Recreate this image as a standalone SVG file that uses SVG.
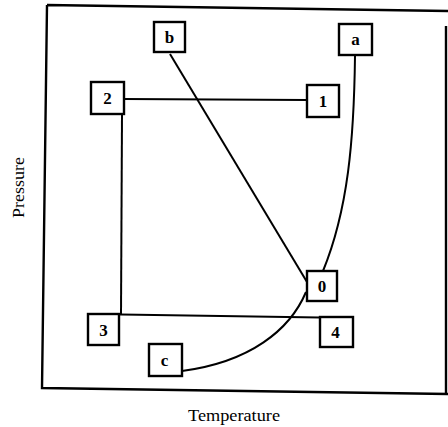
<svg xmlns="http://www.w3.org/2000/svg" width="448" height="427" viewBox="0 0 448 427">
<style>
.box{fill:#fff;stroke:#000;stroke-width:2.4}
.lbl{font-family:"Liberation Serif","DejaVu Serif",serif;font-size:17px;font-weight:bold;text-anchor:middle;fill:#000}
.ax{font-family:"Liberation Serif","DejaVu Serif",serif;font-size:16px;fill:#000}
.ln{fill:none;stroke:#000;stroke-width:2}
</style>
<rect width="448" height="427" fill="#fff"/>
<g id="frame">
<path d="M47,5 L448,11 M47,5 L42,388 L448,394 M446,26 L446,393" fill="none" stroke="#000" stroke-width="2.4"/>
</g>
<text class="ax" x="0" y="0" transform="translate(24,218) rotate(-90)" textLength="61" lengthAdjust="spacingAndGlyphs">Pressure</text>
<text class="ax" x="188" y="421" textLength="92" lengthAdjust="spacingAndGlyphs">Temperature</text>
<g id="connectors">
<line class="ln" x1="124" y1="99" x2="307" y2="100"/>
<line class="ln" x1="170" y1="54" x2="307" y2="282"/>
<path class="ln" d="M355,56 C354,140 348,210 323,271"/>
<line class="ln" x1="122" y1="114" x2="121" y2="314"/>
<line class="ln" x1="88" y1="314" x2="353" y2="318"/>
<path class="ln" d="M306,292 C290,330 250,362 182,371"/>
</g>
<g id="node-b"><rect class="box" x="154" y="22" width="31" height="30"/><text class="lbl" x="169.5" y="43">b</text></g>
<g id="node-a"><rect class="box" x="339" y="24" width="33" height="31"/><text class="lbl" x="355.5" y="45">a</text></g>
<g id="node-2"><rect class="box" x="91" y="82" width="33" height="32"/><text class="lbl" x="107.5" y="104">2</text></g>
<g id="node-1"><rect class="box" x="307" y="85" width="32" height="32"/><text class="lbl" x="323" y="107">1</text></g>
<g id="node-0"><rect class="box" x="307" y="271" width="30" height="30"/><text class="lbl" x="322" y="292">0</text></g>
<g id="node-3"><rect class="box" x="88" y="314" width="31" height="31"/><text class="lbl" x="103.5" y="336">3</text></g>
<g id="node-4"><rect class="box" x="320" y="317" width="33" height="30"/><text class="lbl" x="335.5" y="338">4</text></g>
<g id="node-c"><rect class="box" x="149" y="344" width="33" height="32"/><text class="lbl" x="164.5" y="366">c</text></g>
</svg>
